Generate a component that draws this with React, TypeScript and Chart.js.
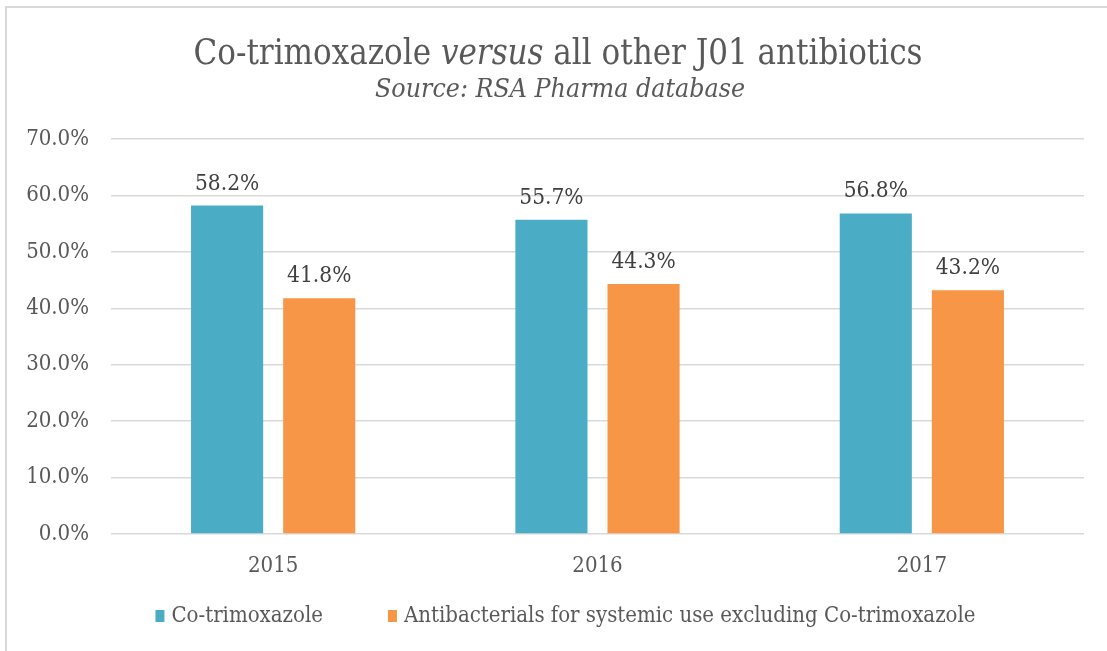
import React, { useEffect, useRef } from 'react';
import { Chart, registerables } from 'chart.js';

Chart.register(...registerables);

const categories = ['2015', '2016', '2017'];
const coTrimoxazole = [58.2, 55.7, 56.8];
const otherAntibacterials = [41.8, 44.3, 43.2];
const seriesNames = ['Co-trimoxazole', 'Antibacterials for systemic use excluding Co-trimoxazole'];
const seriesColors = ['#4BACC6', '#F79646'];
const yMin = 0;
const yMax = 70;
const yStep = 10;
const titleParts = [
  { text: 'Co-trimoxazole ', italic: false },
  { text: 'versus', italic: true },
  { text: ' all other J01 antibiotics', italic: false },
];
const subtitle = 'Source: RSA Pharma database';

const FONT = '"DejaVu Serif Condensed", "DejaVu Serif", serif';
const TEXT = '#595959';

const framePlugin = {
  id: 'frame',
  beforeDraw(chart: any) {
    const { ctx, width, height } = chart;
    ctx.save();
    ctx.fillStyle = '#ffffff';
    ctx.fillRect(0, 0, width, height);
    ctx.strokeStyle = '#d9d9d9';
    ctx.lineWidth = 2;
    ctx.beginPath();
    ctx.moveTo(6, height);
    ctx.lineTo(6, 7);
    ctx.lineTo(width, 7);
    ctx.stroke();
    ctx.restore();
  },
};

const titlePlugin = {
  id: 'mixedTitle',
  afterDraw(chart: any) {
    const { ctx } = chart;
    ctx.save();
    ctx.fillStyle = TEXT;
    ctx.textBaseline = 'alphabetic';
    const size = 34.5;
    const fonts = titleParts.map((p) => `${p.italic ? 'italic ' : ''}${size}px ${FONT}`);
    const widths = titleParts.map((p, i) => {
      ctx.font = fonts[i];
      return ctx.measureText(p.text).width;
    });
    const total = widths.reduce((a, b) => a + b, 0);
    let x = 558 - total / 2;
    titleParts.forEach((p, i) => {
      ctx.font = fonts[i];
      ctx.textAlign = 'left';
      ctx.fillText(p.text, x, 64);
      x += widths[i];
    });
    ctx.font = `italic 26.5px ${FONT}`;
    ctx.textAlign = 'center';
    ctx.fillText(subtitle, 560, 97);
    ctx.restore();
  },
};

const valueLabelPlugin = {
  id: 'valueLabels',
  afterDatasetsDraw(chart: any) {
    const { ctx } = chart;
    ctx.save();
    ctx.fillStyle = '#404040';
    ctx.font = `22.5px ${FONT}`;
    ctx.textAlign = 'center';
    ctx.textBaseline = 'alphabetic';
    chart.data.datasets.forEach((ds: any, di: number) => {
      const meta = chart.getDatasetMeta(di);
      meta.data.forEach((el: any, i: number) => {
        ctx.fillText(`${ds.data[i].toFixed(1)}%`, el.x, el.y - 16);
      });
    });
    ctx.restore();
  },
};

const legendPlugin = {
  id: 'customLegend',
  afterDraw(chart: any) {
    const { ctx, width } = chart;
    ctx.save();
    ctx.font = `22px ${FONT}`;
    ctx.textBaseline = 'middle';
    ctx.textAlign = 'left';
    const box = 9;
    const boxGap = 7;
    const itemGap = 65;
    const widths = seriesNames.map((n) => box + boxGap + ctx.measureText(n).width);
    const total = widths.reduce((a, b) => a + b, 0) + itemGap * (seriesNames.length - 1);
    let x = width / 2 + 12 - total / 2;
    const y = 616;
    seriesNames.forEach((n, i) => {
      ctx.fillStyle = seriesColors[i];
      ctx.fillRect(x, y - 6, box, 12);
      ctx.fillStyle = TEXT;
      ctx.fillText(n, x + box + boxGap, y);
      x += widths[i] + itemGap;
    });
    ctx.restore();
  },
};

export default function App() {
  const canvasRef = useRef<HTMLCanvasElement | null>(null);

  useEffect(() => {
    if (!canvasRef.current) return;
    const chart = new Chart(canvasRef.current, {
      type: 'bar',
      data: {
        labels: categories,
        datasets: [
          {
            label: seriesNames[0],
            data: coTrimoxazole,
            backgroundColor: seriesColors[0],
            borderWidth: 0,
            categoryPercentage: 0.568,
            barPercentage: 0.783,
          },
          {
            label: seriesNames[1],
            data: otherAntibacterials,
            backgroundColor: seriesColors[1],
            borderWidth: 0,
            categoryPercentage: 0.568,
            barPercentage: 0.783,
          },
        ],
      },
      options: {
        responsive: false,
        animation: false,
        events: [],
        layout: { padding: { top: 139, right: 23, bottom: 0, left: 0 } },
        plugins: {
          legend: { display: false },
          title: { display: false },
          tooltip: { enabled: false },
        },
        scales: {
          x: {
            grid: { display: false, drawTicks: false },
            border: { display: false },
            ticks: {
              color: TEXT,
              padding: 19,
              font: { family: FONT, size: 22 },
            },
            afterFit(scale: any) {
              scale.height = 117;
            },
          },
          y: {
            min: yMin,
            max: yMax,
            grid: { color: '#d9d9d9', lineWidth: 1.5, drawTicks: false },
            border: { display: false },
            ticks: {
              stepSize: yStep,
              color: TEXT,
              padding: 22,
              font: { family: FONT, size: 22 },
              callback: (v: any) => `${Number(v).toFixed(1)}%`,
            },
            afterFit(scale: any) {
              scale.width = 111;
            },
          },
        },
      },
      plugins: [framePlugin, valueLabelPlugin, titlePlugin, legendPlugin],
    });
    return () => chart.destroy();
  }, []);

  return (
    <div style={{ position: 'absolute', left: 0, top: 0, width: 1107, height: 651, background: '#fff' }}>
      <canvas ref={canvasRef} width={1107} height={651} style={{ display: 'block' }} />
    </div>
  );
}
